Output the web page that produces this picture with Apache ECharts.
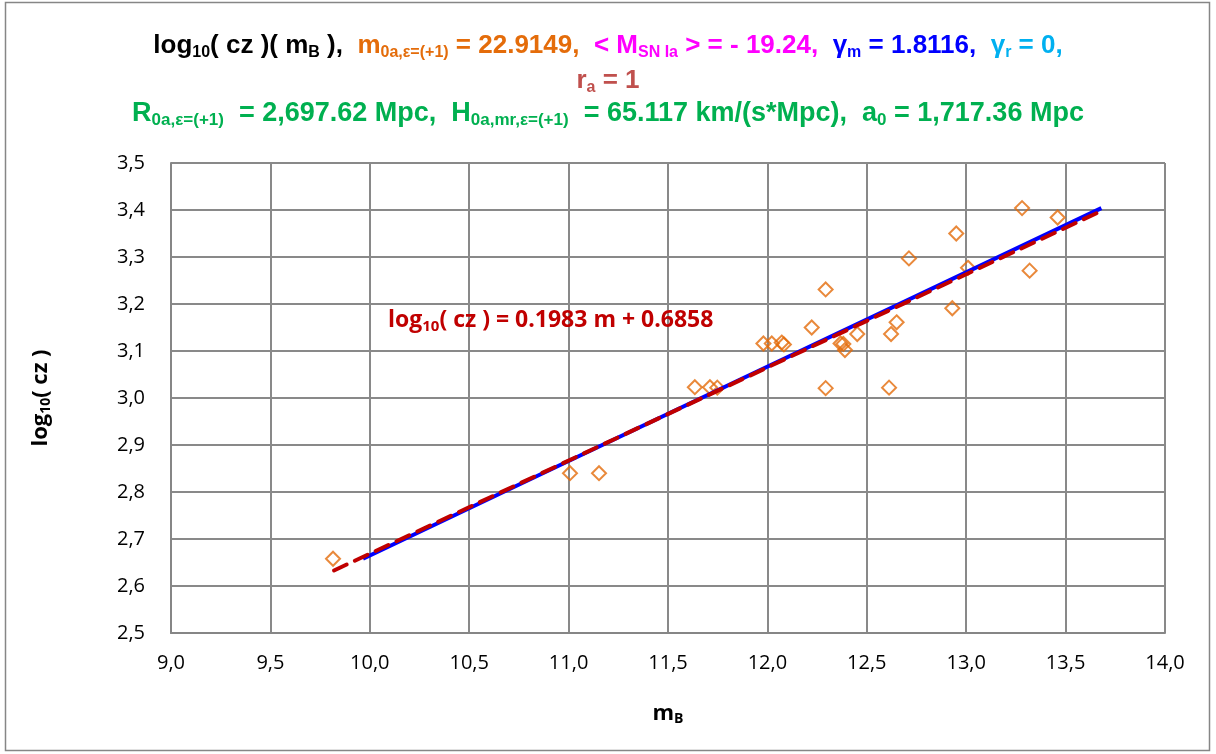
<!DOCTYPE html>
<html><head><meta charset="utf-8">
<script src="https://cdn.jsdelivr.net/npm/echarts@6/dist/echarts.min.js"></script>
<style>html,body{margin:0;padding:0;background:#fff}#c{width:1216px;height:754px}</style>
</head><body><div id="c"></div>
<script>
// Observed data: apparent magnitude m_B vs log10(cz)
const mB = [9.815, 11.007, 11.153, 11.635, 11.711, 11.748, 11.980, 12.022, 12.072, 12.083,
            12.223, 12.293, 12.293, 12.368, 12.382, 12.390, 12.452, 12.612, 12.622, 12.650,
            12.712, 12.930, 12.950, 13.009, 13.281, 13.319, 13.460];
const logcz = [2.658, 2.840, 2.840, 3.023, 3.023, 3.022, 3.116, 3.116, 3.118, 3.114,
               3.150, 3.231, 3.021, 3.116, 3.115, 3.102, 3.136, 3.022, 3.136, 3.161,
               3.297, 3.191, 3.350, 3.277, 3.404, 3.271, 3.384];
// Model curve (blue)
const modelX = [9.966, 11.0, 13.68];
const modelY = [2.658, 2.866, 3.404];
// Linear trendline (red dashed) endpoints
const trendX = [9.82, 13.68];
const trendY = [2.633, 3.398];

const F = 'Liberation Sans Narrow, Liberation Sans, sans-serif';
const sub = (c, fs) => ({ color: c, fontSize: fs, fontWeight: 'bold', fontFamily: F, padding: [14, 0, 0, 0] });
const big = (c, fs) => ({ color: c, fontSize: fs, fontWeight: 'bold', fontFamily: F });

const T = 26, S = 16, T3 = 27, S3 = 17;
const richTitle = {
  k: big('#000000', T), ks: sub('#000000', S),
  o: big('#E46C0A', T), os: sub('#E46C0A', S),
  p: big('#FF00FF', T), ps: sub('#FF00FF', S),
  b: big('#0000FF', T), bs: sub('#0000FF', S),
  c: big('#00B0F0', T), cs: sub('#00B0F0', S),
  r: big('#C0504D', T), rs: sub('#C0504D', S),
  g: big('#00B050', T3), gs: sub('#00B050', S3)
};

const chart = echarts.init(document.getElementById('c'), null, { renderer: 'canvas' });
chart.setOption({
  backgroundColor: '#ffffff',
  animation: false,
  title: [
    { left: 'center', top: 31, padding: 0,
      text: '{k|log}{ks|10}{k|( cz )( m}{ks|B}{k| ),  }{o|m}{os|0a,ε=(+1)}{o| = 22.9149,  }{p|< M}{ps|SN Ia}{p| > = - 19.24,  }{b|γ}{bs|m}{b| = 1.8116,  }{c|γ}{cs|r}{c| = 0,}',
      textStyle: { rich: richTitle } },
    { left: 'center', top: 66, padding: 0,
      text: '{r|r}{rs|a}{r| = 1}',
      textStyle: { rich: richTitle } },
    { left: 'center', top: 98, padding: 0,
      text: '{g|R}{gs|0a,ε=(+1)}{g|  = 2,697.62 Mpc,  H}{gs|0a,mr,ε=(+1)}{g|  = 65.117 km/(s*Mpc),  a}{gs|0}{g| = 1,717.36 Mpc}',
      textStyle: { rich: richTitle } }
  ],
  grid: { left: 171, right: 51, top: 163, bottom: 121, show: false },
  xAxis: {
    type: 'value', min: 9, max: 14, interval: 0.5,
    name: '{a|m}{s|B}', nameLocation: 'middle', nameGap: 68,
    nameTextStyle: { rich: { a: { fontSize: 22, fontWeight: 'bold', fontFamily: 'Open Sans', color: '#000' },
                             s: { fontSize: 14, fontWeight: 'bold', fontFamily: 'Open Sans', color: '#000', padding: [11, 0, 0, 0] } } },
    axisLine: { show: true, lineStyle: { color: '#868686', width: 2 } },
    axisTick: { show: false },
    splitLine: { show: true, lineStyle: { color: '#898989', width: 2 } },
    axisLabel: { fontSize: 20, fontFamily: 'Open Sans', color: '#000', margin: 20,
                 formatter: v => v.toFixed(1).replace('.', ',') }
  },
  yAxis: {
    type: 'value', min: 2.5, max: 3.5, interval: 0.1,
    name: '{a|log}{s|10}{a|( cz )}', nameLocation: 'middle', nameGap: 118, nameRotate: 90,
    nameTextStyle: { rich: { a: { fontSize: 22, fontWeight: 'bold', fontFamily: 'Open Sans', color: '#000' },
                             s: { fontSize: 14, fontWeight: 'bold', fontFamily: 'Open Sans', color: '#000', padding: [11, 0, 0, 0] } } },
    axisLine: { show: true, lineStyle: { color: '#868686', width: 2 } },
    axisTick: { show: false },
    splitLine: { show: true, lineStyle: { color: '#898989', width: 2 } },
    axisLabel: { fontSize: 20, fontFamily: 'Open Sans', color: '#000', margin: 26,
                 formatter: v => v.toFixed(1).replace('.', ',') }
  },
  series: [
    { type: 'scatter', data: mB.map((x, i) => [x, logcz[i]]), symbol: 'diamond', symbolSize: 14,
      itemStyle: { color: 'rgba(255,255,255,0)', borderColor: '#E46C0A', borderWidth: 2 }, z: 2 },
    { type: 'line', data: modelX.map((x, i) => [x, modelY[i]]), symbol: 'none',
      lineStyle: { color: '#0000FF', width: 4 }, z: 3 },
    { type: 'line', data: trendX.map((x, i) => [x, trendY[i]]), symbol: 'none',
      lineStyle: { color: '#C00000', width: 4, type: [14, 9], cap: 'round' }, z: 4 }
  ],
  graphic: [
    { type: 'rect', shape: { x: 5.5, y: 2.5, width: 1204, height: 748 }, style: { fill: 'none', stroke: '#868686', lineWidth: 1.5 }, silent: true },
    { type: 'text', left: 388, top: 309, z: 10,
      style: { text: '{a|log}{s|10}{a|( cz ) = 0.1983 m + 0.6858}',
               rich: { a: { fontSize: 23, fontWeight: 'bold', fontFamily: 'Open Sans', fill: '#C00000', color: '#C00000' },
                       s: { fontSize: 15, fontWeight: 'bold', fontFamily: 'Open Sans', fill: '#C00000', color: '#C00000', padding: [12, 0, 0, 0] } } } }
  ]
});
</script></body></html>
